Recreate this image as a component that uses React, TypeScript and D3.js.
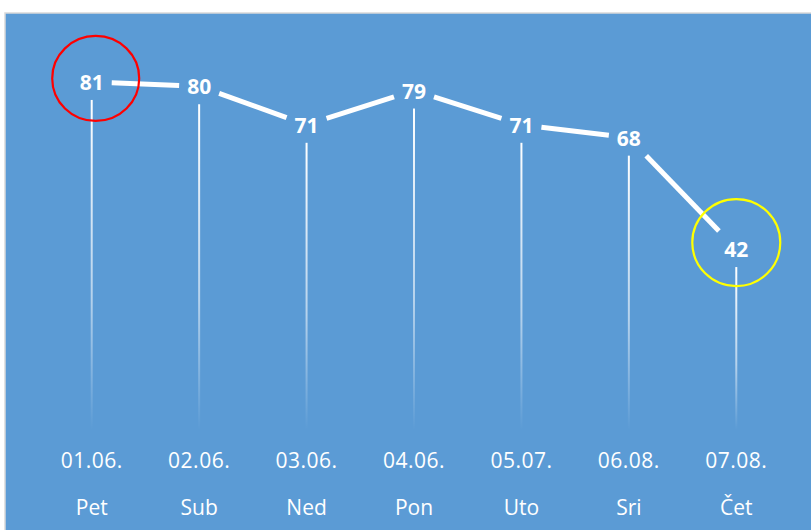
import React from "react";
import * as d3 from "d3";

const dates = ["01.06.", "02.06.", "03.06.", "04.06.", "05.07.", "06.08.", "07.08."];
const days = ["Pet", "Sub", "Ned", "Pon", "Uto", "Sri", "Čet"];
const values = [81, 80, 71, 79, 71, 68, 42];

const W = 811;
const H = 530;

export default function App() {
  const x = d3.scaleBand<number>().domain(d3.range(values.length)).range([38, 790]);
  const cx = (i: number) => (x(i) as number) + x.bandwidth() / 2;
  const y = d3.scaleLinear().domain([0, 90]).range([429, 43.4]);

  const hw = 20, hh = 18;
  const segs = d3.pairs(d3.range(values.length)).map(([a, b]) => {
    const x1 = cx(a), y1 = y(values[a]), x2 = cx(b), y2 = y(values[b]);
    const dx = x2 - x1, dy = y2 - y1;
    const t = Math.min(hw / Math.abs(dx || 1e-9), hh / Math.abs(dy || 1e-9));
    return [[x1 + t * dx, y1 + t * dy], [x2 - t * dx, y2 - t * dy]] as [number, number][];
  });
  const line = d3.line();

  const maxI = d3.maxIndex(values);
  const minI = d3.minIndex(values);
  const font = "'Open Sans', 'Noto Sans', sans-serif";

  return (
    <svg width={W} height={H} style={{ position: "absolute", left: 0, top: 0, display: "block" }}>
      <defs>
        <linearGradient id="fade" x1="0" y1="0" x2="0" y2="1">
          <stop offset="0" stopColor="#ffffff" stopOpacity={1} />
          <stop offset="0.6" stopColor="#ffffff" stopOpacity={0.55} />
          <stop offset="1" stopColor="#ffffff" stopOpacity={0} />
        </linearGradient>
      </defs>
      <rect x={0} y={0} width={W} height={H} fill="#ffffff" />
      <rect x={5} y={13} width={W} height={H} fill="#5B9BD5" stroke="#d9d9d9" strokeWidth={1.5} />
      {values.map((v, i) => (
        <rect key={"d" + i} x={cx(i) - 1} y={y(v) + 18} width={2} height={430 - (y(v) + 18)} fill="url(#fade)" />
      ))}
      {segs.map((s, i) => (
        <path key={"s" + i} d={line(s) || ""} stroke="#ffffff" strokeWidth={5} fill="none" strokeLinecap="butt" />
      ))}
      {values.map((v, i) => (
        <text key={"v" + i} x={cx(i)} y={y(v) + 8} textAnchor="middle" fill="#ffffff" fontFamily={font} fontWeight={700} fontSize={21}>
          {v}
        </text>
      ))}
      {dates.map((d, i) => (
        <text key={"t" + i} x={cx(i)} y={468} textAnchor="middle" fill="#ffffff" fontFamily={font} fontSize={21} letterSpacing={0.5}>
          {d}
        </text>
      ))}
      {days.map((d, i) => (
        <text key={"w" + i} x={cx(i)} y={515} textAnchor="middle" fill="#ffffff" fontFamily={font} fontSize={21}>
          {d}
        </text>
      ))}
      <ellipse cx={cx(maxI) + 4} cy={y(values[maxI]) - 3.5} rx={43.5} ry={42.5} fill="none" stroke="#ff0000" strokeWidth={2.2} />
      <ellipse cx={cx(minI)} cy={y(values[minI]) - 6.5} rx={44} ry={43.5} fill="none" stroke="#ffff00" strokeWidth={2.2} />
    </svg>
  );
}
